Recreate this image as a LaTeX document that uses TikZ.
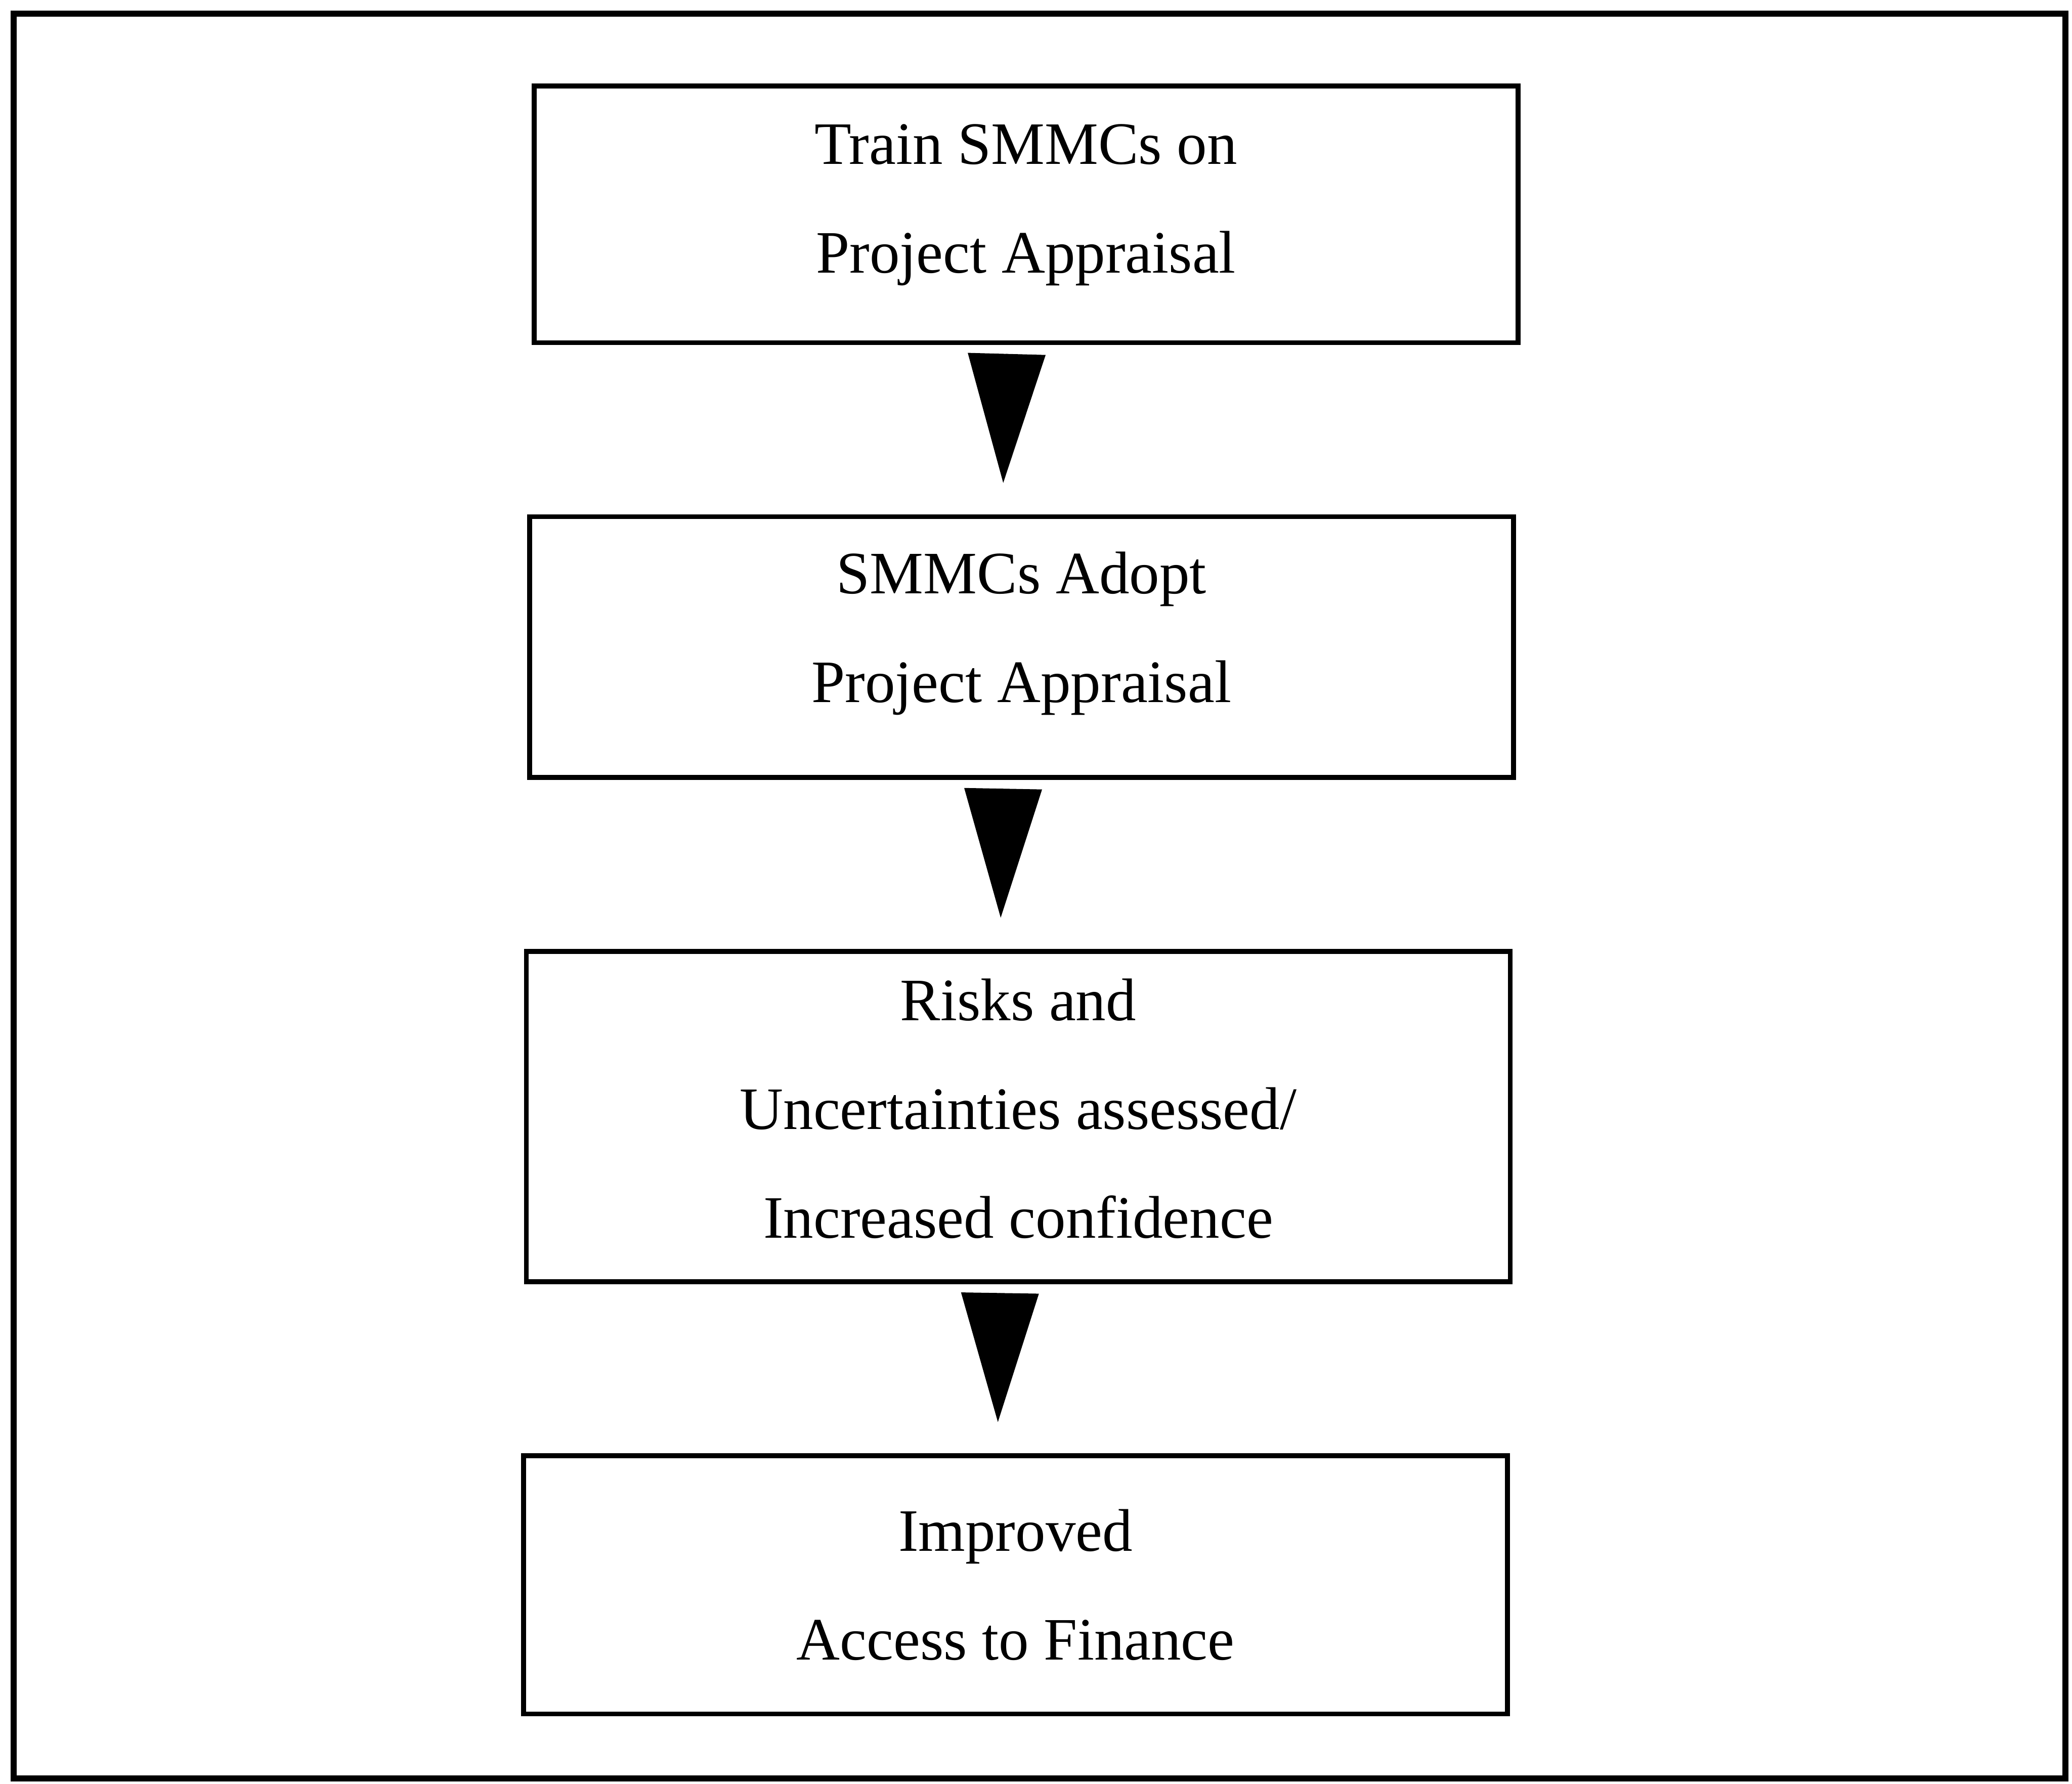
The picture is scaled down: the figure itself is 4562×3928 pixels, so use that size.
\documentclass[tikz,border=0pt]{standalone}
\usepackage{fontspec}
\setmainfont{Liberation Serif}
\usetikzlibrary{arrows.meta,positioning}

\begin{document}
\begin{tikzpicture}[
    x=0.01cm, y=-0.01cm,
    node distance=3.72cm,
    every node/.style={font=\fontsize{37.7}{68}\selectfont},
    process/.style={rectangle, draw, line width=3.1pt, minimum width=21.65cm, align=center, inner sep=0pt},
    frame/.style={draw, line width=3.8pt},
    arr/.style={-{Triangle[length=2.84cm, width=1.71cm]}, line width=0.4pt, shorten <=0.19cm, shorten >=0.69cm}
]
    \useasboundingbox (0,0) rectangle (4562,3928);
    \draw[frame] (30,30) rectangle (4548,3916);
    \node[process, minimum height=5.65cm, text depth=0.69cm] (train) at (2259,472) {Train SMMCs on\\Project Appraisal};
    \node[process, minimum height=5.74cm, text depth=0.89cm, below=of train, xshift=-0.1cm] (adopt) {SMMCs Adopt\\Project Appraisal};
    \node[process, minimum height=7.27cm, text depth=0.37cm, below=of adopt, xshift=-0.07cm] (risks) {Risks and\\Uncertainties assessed/\\Increased confidence};
    \node[process, minimum height=5.68cm, below=of risks, xshift=-0.06cm] (finance) {Improved\\Access to Finance};

    \draw[arr] ([xshift=-0.42cm]train.south) -- ([xshift=-0.42cm]adopt.north);
    \draw[arr] ([xshift=-0.4cm]adopt.south) -- ([xshift=-0.4cm]risks.north);
    \draw[arr] ([xshift=-0.4cm]risks.south) -- ([xshift=-0.4cm]finance.north);
\end{tikzpicture}
\end{document}
